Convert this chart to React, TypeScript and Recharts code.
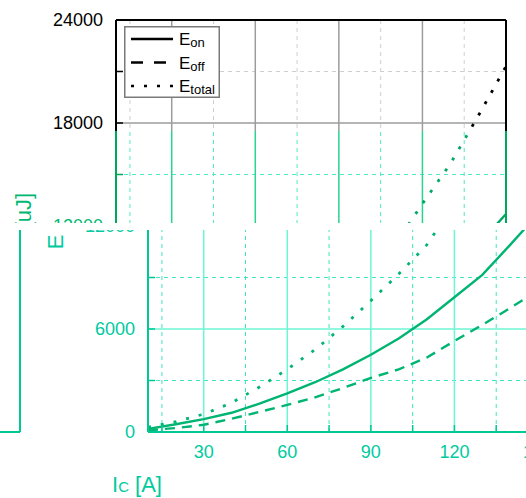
import { CartesianGrid, Legend, Line, LineChart, XAxis, YAxis } from "recharts";

// collector current [A]
const current = [10, 20, 30, 40, 50, 60, 70, 80, 90, 100, 110, 120, 130, 140, 150];
// switching energy [uJ]
const eOn = [180, 450, 750, 1120, 1650, 2250, 2900, 3650, 4500, 5450, 6550, 7850, 9150, 10900, 12700];
const eOff = [100, 230, 420, 770, 1170, 1580, 2020, 2560, 3150, 3650, 4330, 5300, 6240, 7220, 8250];
const eTotal = [280, 600, 1040, 1700, 2620, 3650, 4800, 6150, 7650, 9200, 10880, 13300, 15620, 18400, 21300];

const xTicks = [15, 30, 45, 60, 75, 90, 105, 120, 135, 150];
const xMajor = [30, 60, 90, 120];
const xMinor = [15, 45, 75, 105, 135];
const yTicks = [0, 3000, 6000, 9000, 12000, 15000, 18000, 21000, 24000];
const yMajor = [6000, 12000, 18000];
const yMinor = [3000, 9000, 15000, 21000];

const rows = current.map((ic, i) => ({ ic, eon: eOn[i], eoff: eOff[i], etotal: eTotal[i] }));

const FONT = "'Liberation Sans', Arial, sans-serif";
const W = 526;
const H = 498;

type Pal = { ink: string; axis: string; major: string; minor: string; curve: string };

const mono: Pal = { ink: "#000", axis: "#000", major: "#9c9c9c", minor: "#cfcfcf", curve: "#000" };
const deep: Pal = { ink: "#00b872", axis: "#00a85c", major: "#28d48e", minor: "#4ee8c6", curve: "#00a864" };
const teal: Pal = { ink: "#00caa0", axis: "#00c894", major: "#6cf6d4", minor: "#3ee6c0", curve: "#00b472" };

const DASH = "10 7";
const DOTS = "3 10";

function LegendBox() {
  const items = [
    { name: "on", dash: undefined },
    { name: "off", dash: "12 11" },
    { name: "total", dash: "3 10" },
  ];
  return (
    <svg width={96} height={72} style={{ display: "block" }}>
      <rect x={0.75} y={0.75} width={94.5} height={70.5} fill="#fff" stroke="#7a7a7a" strokeWidth={1.5} />
      {items.map((it, i) => (
        <g key={it.name}>
          <line x1={7} x2={49} y1={13 + i * 23.5} y2={13 + i * 23.5} stroke="#000" strokeWidth={2.5} strokeDasharray={it.dash} />
          <text x={55} y={19 + i * 23.5} fontFamily={FONT} fontSize={17} fill="#000">
            E<tspan fontSize={13} dy={2}>{it.name}</tspan>
          </text>
        </g>
      ))}
    </svg>
  );
}

function LossChart({ pal, legend = false, bare = false }: { pal: Pal; legend?: boolean; bare?: boolean }) {
  const xTick = (p: any) => {
    const v = p.payload.value;
    return (
      <g>
        <line x1={p.x} x2={p.x} y1={p.y} y2={p.y - 7} stroke={pal.axis} strokeWidth={1.5} />
        {!bare && v % 30 === 0 && (
          <text x={p.x} y={p.y + 26} textAnchor="middle" fontFamily={FONT} fontSize={18} fill={pal.ink}>
            {v}
          </text>
        )}
      </g>
    );
  };
  const yTick = (p: any) => {
    const v = p.payload.value;
    return (
      <g>
        <line x1={p.x} x2={p.x + 7} y1={p.y} y2={p.y} stroke={pal.axis} strokeWidth={1.5} />
        {!bare && v % 6000 === 0 && (
          <text x={p.x - 13} y={p.y} textAnchor="end" dominantBaseline="central" fontFamily={FONT} fontSize={18} fill={pal.ink}>
            {v}
          </text>
        )}
      </g>
    );
  };
  const yLabel = (p: any) => {
    const vb = p.viewBox;
    const cx = vb.x + 23;
    const cy = vb.y + vb.height / 2 - 5;
    return (
      <text x={cx} y={cy} transform={`rotate(-90 ${cx} ${cy})`} textAnchor="middle" dominantBaseline="central" fontFamily={FONT} fontSize={22} fill={pal.ink}>
        E [uJ]
      </text>
    );
  };

  return (
    <LineChart width={W} height={H} data={rows} margin={{ top: 20, right: 20, bottom: 0, left: 0 }}>
      <CartesianGrid xAxisId="b" yAxisId="l" horizontal={false} verticalValues={xMinor} stroke={pal.minor} strokeDasharray="4 4" />
      <CartesianGrid xAxisId="b" yAxisId="l" vertical={false} horizontalValues={yMinor} stroke={pal.minor} strokeDasharray="4 4" />
      <CartesianGrid xAxisId="b" yAxisId="l" verticalValues={xMajor} horizontalValues={yMajor} stroke={pal.major} strokeWidth={1.5} />
      <XAxis
        xAxisId="b"
        dataKey="ic"
        type="number"
        domain={[10, 150]}
        ticks={xTicks}
        height={66}
        tickSize={0}
        tickMargin={0}
        tickLine={false}
        tick={xTick}
        axisLine={{ stroke: pal.axis, strokeWidth: 2 }}
      />
      <XAxis
        xAxisId="t"
        orientation="top"
        dataKey="ic"
        type="number"
        domain={[10, 150]}
        ticks={xTicks}
        mirror
        height={1}
        tick={false}
        tickSize={7}
        tickLine={{ stroke: pal.axis, strokeWidth: 1.5 }}
        axisLine={{ stroke: pal.axis, strokeWidth: 2 }}
      />
      <YAxis
        yAxisId="l"
        domain={[0, 24000]}
        ticks={yTicks}
        width={116}
        tickSize={0}
        tickMargin={0}
        tickLine={false}
        tick={yTick}
        axisLine={{ stroke: pal.axis, strokeWidth: 2 }}
        label={bare ? undefined : { content: yLabel }}
      />
      <YAxis
        yAxisId="r"
        orientation="right"
        domain={[0, 24000]}
        ticks={yTicks}
        mirror
        width={1}
        tick={false}
        tickSize={7}
        tickLine={{ stroke: pal.axis, strokeWidth: 1.5 }}
        axisLine={{ stroke: pal.axis, strokeWidth: 2 }}
      />
      {!bare && (
        <Line xAxisId="b" yAxisId="l" type="linear" dataKey="eon" stroke={pal.curve} strokeWidth={2.4} dot={false} isAnimationActive={false} />
      )}
      {!bare && (
        <Line xAxisId="b" yAxisId="l" type="linear" dataKey="eoff" stroke={pal.curve} strokeWidth={2.4} strokeDasharray={DASH} dot={false} isAnimationActive={false} />
      )}
      {!bare && (
        <Line xAxisId="b" yAxisId="l" type="linear" dataKey="etotal" stroke={pal.curve} strokeWidth={2.8} strokeDasharray={DOTS} dot={false} isAnimationActive={false} />
      )}
      {legend && (
        <Legend
          layout="vertical"
          align="center"
          verticalAlign="middle"
          content={() => <LegendBox />}
          wrapperStyle={{ left: 124, top: 26, width: 96, height: 72 }}
        />
      )}
    </LineChart>
  );
}

// a horizontal strip of the chart, optionally slid sideways
function Strip({ top, height, shift, left = 0, width = W, children }: any) {
  return (
    <div style={{ position: "absolute", top, left, width, height, overflow: "hidden" }}>
      <div style={{ position: "absolute", top: -top, left: shift - left }}>{children}</div>
    </div>
  );
}

export default function App() {
  return (
    <div style={{ position: "absolute", left: 0, top: 0, width: W, height: H, overflow: "hidden", background: "#fff" }}>
      <Strip top={0} height={131} shift={0}>
        <LossChart pal={mono} legend />
      </Strip>
      <Strip top={131} height={92} shift={0}>
        <LossChart pal={deep} />
      </Strip>
      <Strip top={230} height={268} shift={32}>
        <LossChart pal={teal} />
      </Strip>
      <Strip top={230} height={206} shift={-486} width={40}>
        <LossChart pal={teal} bare />
      </Strip>
      <svg width={80} height={34} style={{ position: "absolute", left: 108, top: 466 }}>
        <text x={4} y={26} fontFamily={FONT} fontSize={22} fill={teal.ink}>
          I<tspan fontSize={15} dy={0}>C</tspan> [A]
        </text>
      </svg>
    </div>
  );
}
